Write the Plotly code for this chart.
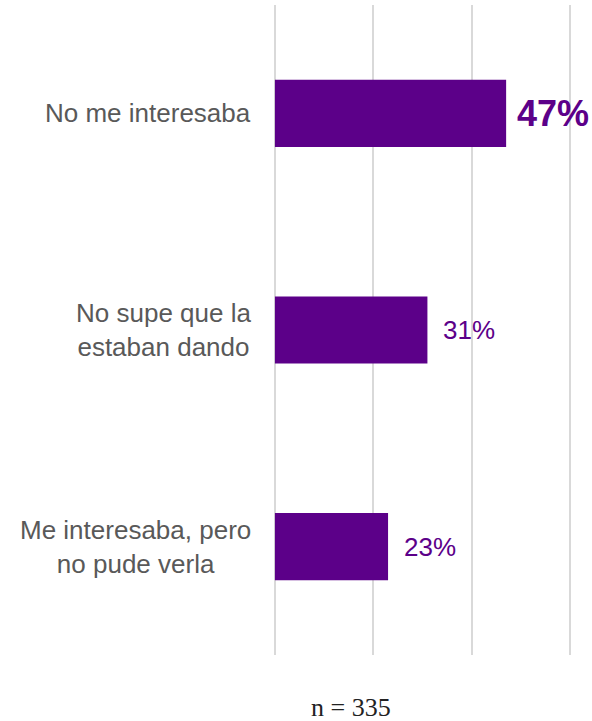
import plotly.graph_objects as go

categories = ["No me interesaba", "No supe que la<br>estaban dando", "Me interesaba, pero<br>no pude verla"]
values = [47, 31, 23]
value_labels = ["47%", "31%", "23%"]
label_sizes = [36, 26, 26]
label_bold = [True, False, False]
footer = "n = 335"

purple = "#5C0089"
gray_text = "#595959"

fig = go.Figure()
fig.add_trace(go.Bar(
    x=values,
    y=categories,
    orientation="h",
    marker=dict(color=purple, line=dict(width=0)),
    width=0.31,
    hoverinfo="skip",
))

for cat, v, lab, sz, b in zip(categories, values, value_labels, label_sizes, label_bold):
    fig.add_annotation(
        x=v, y=cat, xref="x", yref="y",
        text=f"<b>{lab}</b>" if b else lab,
        showarrow=False, xanchor="left", yanchor="middle",
        xshift=9 if b else 14,
        font=dict(family="Liberation Sans, Arial", size=sz, color=purple),
    )
    fig.add_annotation(
        x=0, y=cat, xref="x", yref="y",
        text=cat, showarrow=False, xanchor="right", yanchor="middle",
        align="center", xshift=-22,
        font=dict(family="Liberation Sans, Arial", size=26, color=gray_text),
    )

fig.add_annotation(
    x=0, y=0, xref="x", yref="paper", yshift=-52, xshift=76,
    text=footer, showarrow=False, xanchor="center", yanchor="middle",
    borderpad=0,
    font=dict(family="Liberation Serif, Times New Roman", size=26, color="#222222"),
)

fig.update_layout(
    width=592, height=721,
    margin=dict(l=270, r=17, t=5, b=66),
    paper_bgcolor="white", plot_bgcolor="white",
    showlegend=False,
    xaxis=dict(range=[-1, 61], tickvals=[0, 20, 40, 60], showticklabels=False,
               showgrid=True, gridcolor="#D9D9D9", gridwidth=2,
               zeroline=False, showline=False, fixedrange=True),
    yaxis=dict(range=[2.5, -0.5], showticklabels=False, showgrid=False,
               zeroline=False, showline=False, fixedrange=True),
)
fig.update_traces(cliponaxis=False)

fig.write_html("out.html", config={"displayModeBar": False})

with open("out.html", "r", encoding="utf-8") as f:
    html = f.read()
html = html.replace("<head>", "<head><style>html,body{margin:0;padding:0;overflow:hidden;}</style>", 1)
with open("out.html", "w", encoding="utf-8") as f:
    f.write(html)
